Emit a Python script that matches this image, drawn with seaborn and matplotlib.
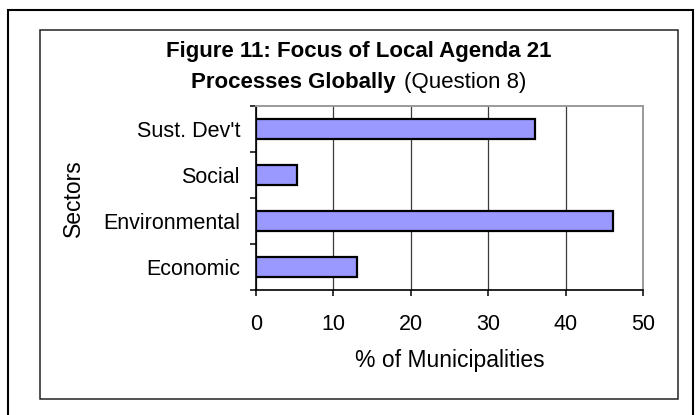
import matplotlib
matplotlib.use("Agg")
import matplotlib.pyplot as plt
from matplotlib.patches import Rectangle
import seaborn as sns

# ------------------------
# Data
# ------------------------
sectors = ["Sust. Dev't", "Social", "Environmental", "Economic"]
pct_municipalities = [36.0, 5.3, 46.1, 13.1]
x_ticks = [0, 10, 20, 30, 40, 50]

W, H = 697, 415
DPI = 100

sns.set_theme(style="white")
plt.rcParams['font.family'] = ['Liberation Sans', 'DejaVu Sans']

fig = plt.figure(figsize=(W / DPI, H / DPI), dpi=DPI)
fig.patch.set_facecolor("white")

def fx(px):
    return px / W

def fy(px):
    return 1 - px / H

# outer page border and inner chart frame
fig.patches.append(Rectangle((fx(8), fy(425)), fx(693) - fx(8), fy(10) - fy(425),
                             transform=fig.transFigure, fill=False,
                             edgecolor="black", linewidth=1.5, zorder=0))
fig.patches.append(Rectangle((fx(40), fy(399)), fx(678) - fx(40), fy(30) - fy(399),
                             transform=fig.transFigure, fill=False,
                             edgecolor="#222222", linewidth=1.1, zorder=0))

ax = fig.add_axes([fx(256), fy(290), fx(643) - fx(256), fy(106) - fy(290)])

sns.barplot(x=pct_municipalities, y=sectors, orient="h", color="#9999FF",
            saturation=1, width=0.43, edgecolor="black", linewidth=1.6, ax=ax)

ax.set_xlim(0, 50)
ax.set_ylim(3.5, -0.5)
ax.set_xticks(x_ticks)
ax.set_xticklabels([str(t) for t in x_ticks])
ax.xaxis.grid(True, color="#3a3a3a", linewidth=0.9)
ax.set_axisbelow(True)

# ticks: categories get no marks, boundaries get outward marks
ax.set_yticks([-0.5, 0.5, 1.5, 2.5, 3.5], minor=True)
ax.tick_params(axis="y", which="major", length=0, pad=11.5, labelsize=15.5, colors="black")
ax.tick_params(axis="y", which="minor", length=4.5, width=1.1, color="black", direction="out", left=True)
ax.tick_params(axis="x", which="major", length=4, width=1.1, color="black", direction="out",
               bottom=True, pad=13.5, labelsize=15.5, labelcolor="black")

for side in ["left", "bottom"]:
    ax.spines[side].set_color("black")
    ax.spines[side].set_linewidth(1.2)
for side in ["top", "right"]:
    ax.spines[side].set_color("#9a9a9a")
    ax.spines[side].set_linewidth(1.4)

ax.set_xlabel("% of Municipalities", fontsize=16.5, color="black")
ax.set_ylabel("Sectors", fontsize=16.5, color="black")
ax.xaxis.set_label_coords(0.5, (290 - 360) / 184)
ax.xaxis.label.set_va("center")
ax.yaxis.set_label_coords((73 - 256) / 387, 0.5)
ax.yaxis.label.set_va("center")

# two-line title, second line mixes bold and normal
cx = fx(359)
fig.text(cx, fy(57), "Figure 11: Focus of Local Agenda 21", ha="center", va="baseline",
         fontsize=16, fontweight="bold", color="black")
t_bold = fig.text(0, fy(88), "Processes Globally", ha="left", va="baseline",
                  fontsize=16, fontweight="bold", color="black")
t_norm = fig.text(0, fy(88), "(Question 8)", ha="left", va="baseline",
                  fontsize=16, color="black")
fig.canvas.draw()
r = fig.canvas.get_renderer()
w_bold = t_bold.get_window_extent(r).width
w_norm = t_norm.get_window_extent(r).width
gap = 8
start = 359 - (w_bold + gap + w_norm) / 2
t_bold.set_x(fx(start))
t_norm.set_x(fx(start + w_bold + gap))

fig.savefig("out.png", dpi=DPI)
